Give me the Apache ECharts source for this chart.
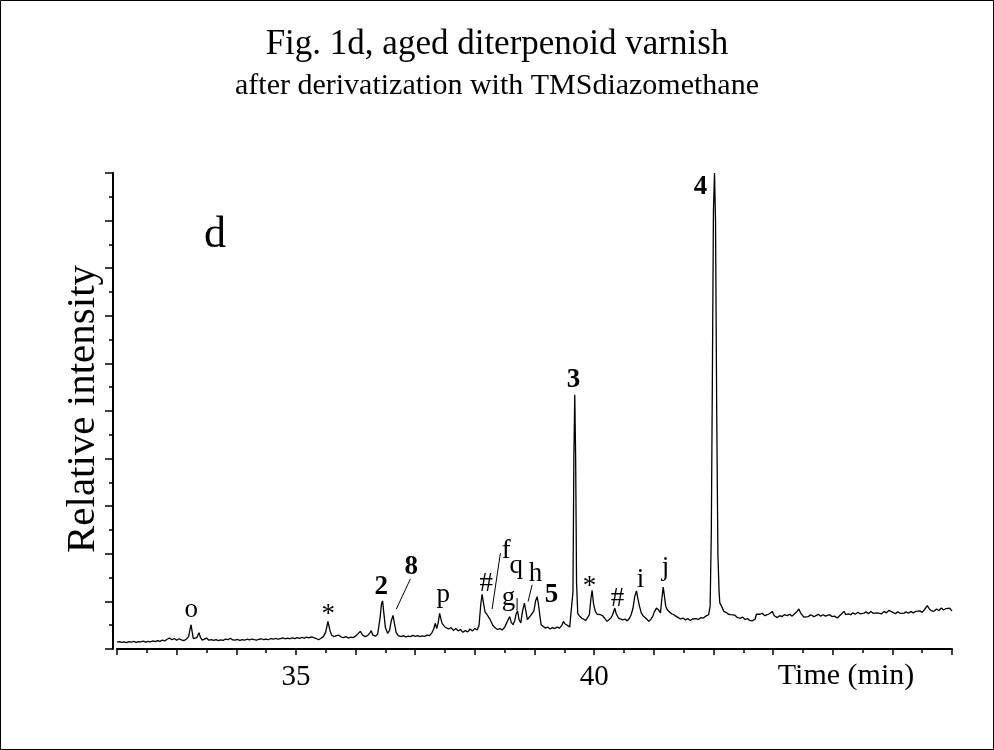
<!DOCTYPE html>
<html><head><meta charset="utf-8">
<script src="https://cdn.jsdelivr.net/npm/echarts@6/dist/echarts.min.js"></script>
<style>html,body{margin:0;padding:0;background:#fff}#c{width:994px;height:750px}</style>
</head><body><div id="c"></div>
<script>
const titleLines = ['Fig. 1d, aged diterpenoid varnish', 'after derivatization with TMSdiazomethane'];
const xLabelValues = [35, 40];
const xAxisTitle = 'Time (min)';
const yAxisTitle = 'Relative intensity';
const panelLetter = 'd';

// chromatogram trace: [time (min), relative intensity]
const trace = [
[32.00,1.45],[32.04,1.55],[32.08,1.40],[32.12,1.50],[32.16,1.35],[32.20,1.55],[32.24,1.45],[32.28,1.60],[32.32,1.40],[32.36,1.55],
[32.40,1.50],[32.44,1.65],[32.48,1.45],[32.52,1.60],[32.56,1.50],[32.60,1.70],[32.64,1.55],[32.68,1.75],[32.72,1.60],[32.76,1.85],
[32.80,1.70],[32.84,2.05],[32.88,2.30],[32.92,1.95],[32.96,2.20],[33.00,1.85],[33.04,2.15],[33.08,1.90],[33.12,1.75],[33.16,2.05],
[33.20,2.60],[33.225,4.2],[33.243,5.1],[33.26,3.6],[33.28,2.2],[33.31,1.9],[33.34,2.4],[33.375,3.4],[33.40,2.4],[33.43,1.85],
[33.46,2.05],[33.50,2.30],[33.54,1.85],[33.58,1.95],[33.62,1.80],[33.66,1.95],[33.70,1.75],[33.74,1.90],[33.78,1.80],[33.82,2.10],
[33.86,1.95],[33.90,2.25],[33.94,1.90],[33.98,1.85],[34.02,2.00],[34.06,1.80],[34.10,1.95],[34.14,1.85],[34.18,2.05],[34.22,1.90],
[34.26,2.10],[34.30,1.95],[34.34,1.85],[34.38,2.05],[34.42,2.15],[34.46,1.95],[34.50,2.10],[34.54,1.95],[34.58,2.20],[34.62,2.05],
[34.66,2.25],[34.70,2.05],[34.74,2.20],[34.78,2.35],[34.82,2.15],[34.86,2.30],[34.90,2.15],[34.94,2.35],[34.98,2.20],[35.02,2.40],
[35.06,2.25],[35.10,2.45],[35.14,2.30],[35.18,2.50],[35.22,2.35],[35.26,2.55],[35.30,2.40],[35.34,2.20],[35.38,1.95],[35.42,2.25],
[35.46,2.6],[35.50,3.6],[35.537,5.8],[35.57,3.9],[35.60,2.9],[35.64,2.6],[35.68,2.8],[35.72,2.9],[35.76,2.5],[35.80,2.4],
[35.84,2.6],[35.88,2.3],[35.92,2.5],[35.96,2.4],[36.00,2.7],[36.04,3.2],[36.079,3.7],[36.12,2.9],[36.16,2.6],[36.20,2.8],
[36.24,3.4],[36.263,3.85],[36.29,2.9],[36.33,2.7],[36.37,3.1],[36.41,6.5],[36.435,9.5],[36.453,10.1],[36.47,8.0],[36.50,4.5],
[36.537,3.3],[36.57,3.9],[36.60,6.0],[36.628,7.05],[36.65,5.5],[36.68,3.5],[36.716,2.8],[36.76,2.6],[36.80,2.8],[36.84,2.55],
[36.88,2.7],[36.92,2.6],[36.96,2.85],[37.00,2.65],[37.04,2.8],[37.08,2.6],[37.12,2.75],[37.16,2.65],[37.20,2.9],[37.24,2.8],
[37.28,3.4],[37.31,4.2],[37.337,5.4],[37.36,4.3],[37.385,5.5],[37.409,7.5],[37.43,6.4],[37.45,5.4],[37.471,5.8],[37.50,4.6],
[37.53,4.9],[37.56,4.2],[37.60,4.5],[37.64,3.9],[37.68,4.3],[37.72,3.8],[37.76,4.1],[37.80,3.5],[37.84,3.9],[37.88,3.6],
[37.92,4.2],[37.96,3.8],[38.00,4.3],[38.04,4.0],[38.07,5.0],[38.10,9.5],[38.121,11.5],[38.14,10.0],[38.17,7.8],[38.205,7.2],
[38.23,7.5],[38.26,6.1],[38.30,5.0],[38.344,4.4],[38.38,4.1],[38.42,4.3],[38.46,4.0],[38.50,4.6],[38.53,5.0],[38.56,6.2],
[38.584,6.8],[38.61,5.6],[38.64,5.1],[38.67,6.0],[38.69,7.3],[38.718,7.9],[38.74,6.2],[38.77,5.5],[38.80,8.0],[38.831,9.65],
[38.85,8.3],[38.88,6.2],[38.91,6.5],[38.935,7.0],[38.96,7.2],[38.99,8.0],[39.02,10.2],[39.044,11.0],[39.065,9.5],[39.09,7.0],
[39.111,5.1],[39.14,4.8],[39.18,4.4],[39.22,4.6],[39.26,4.2],[39.30,4.5],[39.34,4.3],[39.38,4.6],[39.42,4.4],[39.46,5.0],
[39.485,5.8],[39.51,5.3],[39.55,5.0],[39.59,4.6],[39.62,4.5],[39.645,12],[39.66,40],[39.675,53.4],[39.69,40],[39.705,14],
[39.725,7.5],[39.75,7.0],[39.77,6.8],[39.80,6.4],[39.83,6.8],[39.86,6.0],[39.89,6.3],[39.92,7.2],[39.945,10.5],[39.966,12.3],
[39.99,9.5],[40.02,7.9],[40.05,7.3],[40.08,7.6],[40.106,7.2],[40.14,7.0],[40.18,6.4],[40.218,5.8],[40.25,6.0],[40.28,6.5],
[40.31,7.2],[40.346,8.6],[40.37,7.4],[40.408,6.5],[40.44,6.8],[40.48,6.1],[40.52,6.3],[40.554,5.9],[40.59,6.4],[40.62,7.2],
[40.65,8.5],[40.68,11.0],[40.71,12.2],[40.73,10.8],[40.76,9.0],[40.79,7.6],[40.82,7.0],[40.85,6.6],[40.88,6.3],[40.916,5.8],
[40.95,6.2],[40.98,6.8],[41.01,7.8],[41.045,8.6],[41.08,8.2],[41.112,7.6],[41.135,10.5],[41.158,13.0],[41.18,11.0],[41.20,9.0],
[41.225,8.3],[41.26,7.8],[41.30,7.4],[41.336,7.2],[41.37,6.9],[41.41,6.6],[41.448,6.3],[41.49,6.5],[41.53,6.1],[41.57,6.4],
[41.61,6.0],[41.65,6.3],[41.671,6.15],[41.71,6.4],[41.75,6.2],[41.79,6.6],[41.83,6.5],[41.87,6.9],[41.896,6.8],[41.92,7.2],
[41.945,9],[41.965,25],[41.985,62],[42.0,92],[42.018,100],[42.035,90],[42.055,50],[42.075,20],[42.095,12],[42.107,9.7],
[42.14,8.9],[42.175,7.9],[42.21,7.7],[42.25,7.3],[42.287,7.2],[42.32,6.9],[42.36,7.1],[42.40,6.6],[42.455,6.5],[42.49,6.7],
[42.53,6.2],[42.57,6.4],[42.61,6.0],[42.65,5.9],[42.678,5.8],[42.70,6.3],[42.72,7.3],[42.745,7.55],[42.78,7.3],[42.82,7.5],
[42.86,7.0],[42.903,7.2],[42.94,7.4],[42.987,7.9],[43.02,7.0],[43.07,6.6],[43.11,7.0],[43.15,6.8],[43.19,7.2],[43.238,7.0],
[43.28,7.3],[43.32,6.9],[43.36,7.4],[43.40,7.9],[43.433,8.4],[43.46,7.6],[43.517,6.7],[43.55,7.1],[43.59,6.8],[43.63,7.2],
[43.685,6.8],[43.72,7.0],[43.76,7.3],[43.80,6.9],[43.84,7.2],[43.88,6.9],[43.91,7.0],[43.95,7.2],[43.99,6.8],[44.03,6.9],
[44.077,6.5],[44.11,6.9],[44.15,7.4],[44.188,7.9],[44.22,7.2],[44.26,7.4],[44.30,7.2],[44.34,7.6],[44.38,7.3],[44.42,7.7],
[44.46,7.4],[44.524,7.55],[44.56,7.8],[44.60,7.4],[44.64,7.9],[44.68,7.5],[44.748,7.6],[44.78,7.8],[44.82,7.4],[44.86,7.9],
[44.90,7.6],[44.94,8.1],[44.971,8.0],[45.01,7.7],[45.05,7.4],[45.09,7.8],[45.13,7.5],[45.195,7.55],[45.23,7.8],[45.27,7.5],
[45.31,7.9],[45.35,7.6],[45.39,7.9],[45.419,7.8],[45.46,8.0],[45.50,7.7],[45.54,8.3],[45.587,9.1],[45.62,8.4],[45.66,8.0],
[45.698,7.9],[45.74,8.4],[45.78,8.1],[45.82,8.6],[45.86,8.2],[45.90,8.5],[45.923,8.4],[45.96,8.6],[46.0,8.0]
];

// peak annotations (text, anchor time, anchor intensity, bold)
const peakLabelText = ['o','*','2','8','p','#','f','g','q','h','5','3','*','#','i','j','4'];
const peakLabelTime = [33.243,35.542,36.431,36.935,37.471,38.193,38.528,38.562,38.696,39.015,39.284,39.653,39.921,40.391,40.777,41.196,41.784];
const peakLabelIntensity = [8.25,7.2,13.07,17.27,11.39,13.7,20.63,10.66,17.37,15.8,11.39,56.5,13.07,10.55,14.54,16.95,97.0];
const peakLabelBold = [0,0,1,1,0,0,0,0,0,0,1,1,0,0,0,0,1];
// leader lines: [t1, v1, t2, v2]
const leaderLines = [[36.918,14.69,36.683,8.39],[38.428,20.14,38.289,8.39],[38.708,10.7,38.708,7.55],[38.96,13.49,38.893,9.99]];

const FONT = "'Liberation Serif','Times New Roman',serif";
const chart = echarts.init(document.getElementById('c'), null, {renderer:'canvas'});
chart.setOption({
  animation:false,
  backgroundColor:'#fff',
  grid:{left:117, right:42, top:173, bottom:101, containLabel:false},
  xAxis:{type:'value', min:32, max:46, interval:1,
    axisLine:{show:true, onZero:false, lineStyle:{color:'#000', width:2}},
    axisTick:{show:true, inside:false, length:6, lineStyle:{color:'#000', width:1.5}},
    minorTick:{show:true, splitNumber:2, length:4, lineStyle:{color:'#000', width:1.5}},
    splitLine:{show:false}, minorSplitLine:{show:false},
    axisLabel:{margin:14, fontFamily:FONT, fontSize:29, color:'#000', formatter: v => xLabelValues.includes(v) ? String(v) : ''}
  },
  yAxis:{type:'value', min:0, max:100, interval:10, offset:4,
    axisLine:{show:true, lineStyle:{color:'#000', width:2}},
    axisTick:{show:true, length:8, lineStyle:{color:'#000', width:1.5}},
    minorTick:{show:true, splitNumber:2, length:4, lineStyle:{color:'#000', width:1.5}},
    splitLine:{show:false}, axisLabel:{show:false}
  },
  series:[{type:'line', data:trace, showSymbol:false, symbol:'none', clip:true,
    lineStyle:{color:'#000', width:1.3}}]
});

const g = [];
g.push({type:'rect', shape:{x:0.5,y:0.5,width:993,height:749}, style:{fill:'none', stroke:'#000', lineWidth:1}, silent:true});
g.push({type:'text', x:497, y:45, style:{text:titleLines[0], x:0, y:0, font:'35px '+FONT, fill:'#000', textAlign:'center', textVerticalAlign:'middle', align:'center', verticalAlign:'middle'}});
g.push({type:'text', x:497, y:86, style:{text:titleLines[1], x:0, y:0, font:'30px '+FONT, fill:'#000', textAlign:'center', textVerticalAlign:'middle', align:'center', verticalAlign:'middle'}});
g.push({type:'text', x:83, y:409, rotation:Math.PI/2, style:{text:yAxisTitle, x:0, y:0, font:'41px '+FONT, fill:'#000', textAlign:'center', textVerticalAlign:'middle', align:'center', verticalAlign:'middle'}});
g.push({type:'text', x:846, y:676, style:{text:xAxisTitle, x:0, y:0, font:'30px '+FONT, fill:'#000', textAlign:'center', textVerticalAlign:'middle', align:'center', verticalAlign:'middle'}});
g.push({type:'text', x:215, y:235, style:{text:panelLetter, x:0, y:0, font:'44px '+FONT, fill:'#000', textAlign:'center', textVerticalAlign:'middle', align:'center', verticalAlign:'middle'}});
for (let i = 0; i < peakLabelText.length; i++) {
  const p = chart.convertToPixel({gridIndex:0}, [peakLabelTime[i], peakLabelIntensity[i]]);
  g.push({type:'text', x:p[0], y:p[1], style:{text:peakLabelText[i], x:0, y:0,
    font:(peakLabelBold[i] ? 'bold ' : '') + '27px ' + FONT, fill:'#000',
    textAlign:'center', textVerticalAlign:'middle', align:'center', verticalAlign:'middle'}});
}
leaderLines.forEach(l => {
  const a = chart.convertToPixel({gridIndex:0}, [l[0], l[1]]);
  const b = chart.convertToPixel({gridIndex:0}, [l[2], l[3]]);
  g.push({type:'line', shape:{x1:a[0], y1:a[1], x2:b[0], y2:b[1]}, style:{stroke:'#000', lineWidth:1}});
});
chart.setOption({graphic:g});
</script>
</body></html>
